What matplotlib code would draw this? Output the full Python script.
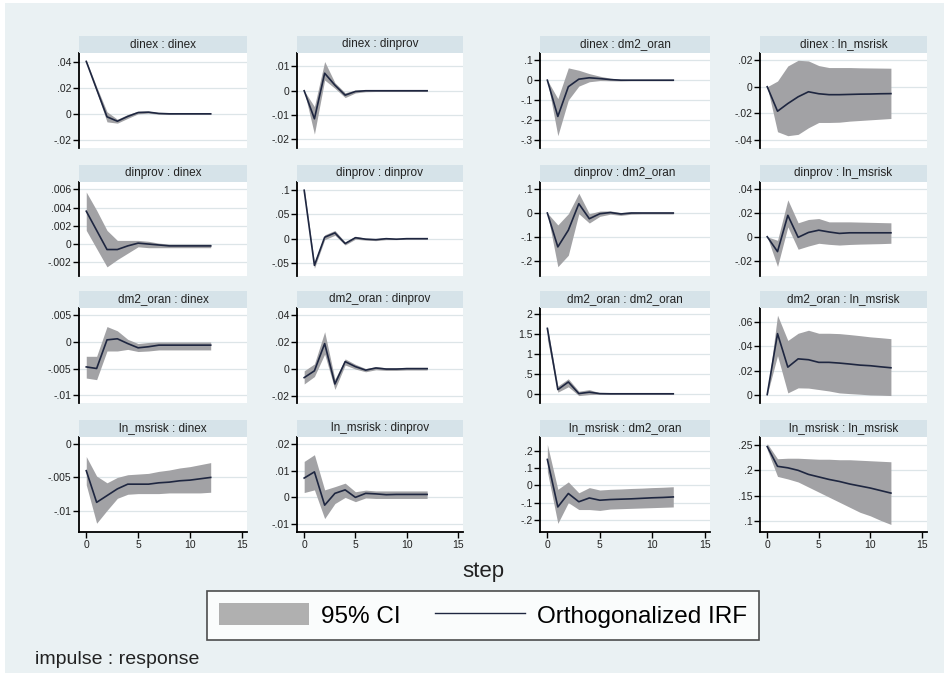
import matplotlib
matplotlib.use("Agg")
import matplotlib.pyplot as plt
from matplotlib.patches import Patch, Rectangle
from matplotlib.lines import Line2D

plt.rcParams['font.family'] = ['Liberation Sans Narrow', 'Liberation Sans', 'DejaVu Sans']

steps = list(range(13))
variables = ['dinex', 'dinprov', 'dm2_oran', 'ln_msrisk']

# impulse dinex
irf_dinex_dinex = [0.0405, 0.019, -0.0023, -0.0057, -0.002, 0.001, 0.0013, 0.0003, 0.0, 0.0, 0.0, 0.0, 0.0]
lo_dinex_dinex = [0.0395, 0.017, -0.0062, -0.0072, -0.0035, 0.0, 0.0005, -0.0003, -0.0004, -0.0003, -0.0003, -0.0003, -0.0003]
hi_dinex_dinex = [0.0415, 0.021, 0.0016, -0.0042, -0.0005, 0.002, 0.0021, 0.0009, 0.0004, 0.0003, 0.0003, 0.0003, 0.0003]

irf_dinex_dinprov = [0.0, -0.0115, 0.0072, 0.0023, -0.0018, -0.0003, 0.0, 0.0, 0.0, 0.0, 0.0, 0.0, 0.0]
lo_dinex_dinprov = [0.0, -0.0178, 0.0044, 0.001, -0.0028, -0.0009, -0.0004, -0.0003, -0.0003, -0.0003, -0.0003, -0.0003, -0.0003]
hi_dinex_dinprov = [0.0, -0.0065, 0.012, 0.0033, -0.0008, 0.0003, 0.0004, 0.0003, 0.0003, 0.0003, 0.0003, 0.0003, 0.0003]

irf_dinex_dm2 = [0.0, -0.183, -0.033, 0.005, 0.012, 0.008, 0.003, 0.0, 0.0, 0.0, 0.0, 0.0, 0.0]
lo_dinex_dm2 = [0.0, -0.28, -0.10, -0.03, -0.008, -0.002, -0.003, -0.004, -0.003, -0.003, -0.003, -0.003, -0.003]
hi_dinex_dm2 = [0.0, -0.093, 0.062, 0.05, 0.033, 0.02, 0.01, 0.004, 0.003, 0.003, 0.003, 0.003, 0.003]

irf_dinex_risk = [0.0, -0.0185, -0.0127, -0.0076, -0.0038, -0.0053, -0.006, -0.006, -0.0058, -0.0056, -0.0055, -0.0053, -0.0052]
lo_dinex_risk = [0.0, -0.034, -0.037, -0.036, -0.031, -0.027, -0.027, -0.0268, -0.026, -0.0255, -0.025, -0.0245, -0.024]
hi_dinex_risk = [0.0, 0.0043, 0.0157, 0.02, 0.0195, 0.016, 0.0145, 0.0145, 0.0145, 0.0143, 0.0142, 0.0141, 0.014]

# impulse dinprov
irf_dinprov_dinex = [0.0036, 0.0015, -0.0006, -0.0006, -0.0002, 0.0001, 0.0, -0.0001, -0.0002, -0.0002, -0.0002, -0.0002, -0.0002]
lo_dinprov_dinex = [0.0015, -0.0005, -0.0025, -0.0017, -0.001, -0.0003, -0.0004, -0.0004, -0.0004, -0.0004, -0.0004, -0.0004, -0.0004]
hi_dinprov_dinex = [0.0057, 0.0037, 0.0015, 0.0004, 0.0004, 0.0004, 0.0003, 0.0001, 0.0, 0.0, 0.0, 0.0, 0.0]

irf_dinprov_dinprov = [0.1, -0.055, 0.003, 0.012, -0.01, 0.002, -0.001, -0.002, 0.0, -0.001, 0.0, 0.0, 0.0]
lo_dinprov_dinprov = [0.096, -0.061, -0.002, 0.007, -0.013, -0.001, -0.003, -0.004, -0.002, -0.002, -0.001, -0.001, -0.001]
hi_dinprov_dinprov = [0.104, -0.049, 0.008, 0.017, -0.007, 0.005, 0.001, 0.0, 0.002, 0.0, 0.001, 0.001, 0.001]

irf_dinprov_dm2 = [0.0, -0.142, -0.072, 0.039, -0.024, -0.003, 0.002, -0.004, 0.0, 0.0, 0.0, 0.0, 0.0]
lo_dinprov_dm2 = [0.0, -0.225, -0.177, -0.003, -0.042, -0.014, -0.005, -0.01, -0.005, -0.004, -0.004, -0.004, -0.004]
hi_dinprov_dm2 = [0.0, -0.05, -0.003, 0.083, -0.003, 0.008, 0.009, 0.002, 0.005, 0.004, 0.004, 0.004, 0.004]

irf_dinprov_risk = [0.0, -0.0125, 0.018, -0.0005, 0.0036, 0.0055, 0.004, 0.0028, 0.0033, 0.0033, 0.0033, 0.0033, 0.0033]
lo_dinprov_risk = [0.0, -0.025, 0.0083, -0.0105, -0.0078, -0.0055, -0.0064, -0.007, -0.0065, -0.0062, -0.006, -0.0058, -0.0055]
hi_dinprov_risk = [0.0, -0.003, 0.031, 0.0117, 0.0145, 0.0153, 0.0125, 0.0125, 0.0125, 0.0123, 0.0121, 0.0119, 0.0117]

# impulse dm2_oran
irf_dm2_dinex = [-0.0047, -0.005, 0.0004, 0.0006, -0.0003, -0.0011, -0.0009, -0.0006, -0.0006, -0.0006, -0.0006, -0.0006, -0.0006]
lo_dm2_dinex = [-0.0068, -0.0071, -0.0017, -0.0017, -0.0014, -0.0018, -0.0017, -0.0015, -0.0015, -0.0015, -0.0015, -0.0015, -0.0015]
hi_dm2_dinex = [-0.0027, -0.0027, 0.0029, 0.0021, 0.0005, -0.0003, -0.0001, 0.0, 0.0, 0.0, 0.0, 0.0, 0.0]

irf_dm2_dinprov = [-0.0063, -0.0013, 0.0188, -0.011, 0.0055, 0.0018, -0.0008, 0.0008, 0.0, 0.0, 0.0003, 0.0003, 0.0003]
lo_dm2_dinprov = [-0.011, -0.0055, 0.011, -0.015, 0.003, 0.0, -0.002, -0.0005, -0.001, -0.001, -0.0007, -0.0007, -0.0007]
hi_dm2_dinprov = [-0.0013, 0.0038, 0.0275, -0.0075, 0.0075, 0.0035, 0.0004, 0.0018, 0.001, 0.001, 0.0013, 0.0013, 0.0013]

irf_dm2_dm2 = [1.63, 0.1, 0.29, 0.0, 0.035, 0.0, -0.005, -0.005, -0.005, -0.005, -0.005, -0.005, -0.005]
lo_dm2_dm2 = [1.36, 0.035, 0.17, -0.05, -0.025, -0.02, -0.02, -0.018, -0.018, -0.018, -0.018, -0.018, -0.018]
hi_dm2_dm2 = [1.68, 0.19, 0.37, 0.06, 0.1, 0.02, 0.01, 0.008, 0.008, 0.008, 0.008, 0.008, 0.008]

irf_dm2_risk = [0.0, 0.0507, 0.0228, 0.0297, 0.029, 0.0268, 0.0268, 0.0262, 0.0254, 0.0245, 0.024, 0.0231, 0.0223]
lo_dm2_risk = [0.0, 0.0324, 0.0014, 0.0056, 0.0054, 0.0042, 0.003, 0.0014, 0.0008, 0.0003, -0.0003, -0.0005, -0.0008]
hi_dm2_risk = [0.0, 0.066, 0.045, 0.051, 0.0535, 0.051, 0.051, 0.0507, 0.0499, 0.049, 0.048, 0.0473, 0.0465]

# impulse ln_msrisk
irf_risk_dinex = [-0.004, -0.0087, -0.0077, -0.0067, -0.006, -0.006, -0.006, -0.0058, -0.0057, -0.0055, -0.0054, -0.0052, -0.005]
lo_risk_dinex = [-0.0061, -0.0118, -0.0099, -0.0081, -0.0075, -0.0074, -0.0074, -0.0074, -0.0073, -0.0073, -0.0073, -0.0073, -0.0072]
hi_risk_dinex = [-0.0019, -0.0048, -0.0058, -0.005, -0.0046, -0.0045, -0.0044, -0.0041, -0.0039, -0.0036, -0.0034, -0.0031, -0.0028]

irf_risk_dinprov = [0.0072, 0.0095, -0.0029, 0.0015, 0.0028, 0.0, 0.0015, 0.0013, 0.001, 0.0011, 0.0011, 0.0011, 0.0011]
lo_risk_dinprov = [0.0018, 0.0028, -0.0079, -0.0023, 0.0, -0.0016, -0.0002, -0.0004, -0.0004, -0.0004, -0.0004, -0.0004, -0.0004]
hi_risk_dinprov = [0.0134, 0.0159, 0.0028, 0.004, 0.0053, 0.0021, 0.0027, 0.0024, 0.0024, 0.0024, 0.0024, 0.0024, 0.0024]

irf_risk_dm2 = [0.15, -0.125, -0.047, -0.095, -0.073, -0.086, -0.082, -0.08, -0.078, -0.075, -0.072, -0.07, -0.067]
lo_risk_dm2 = [0.08, -0.22, -0.1, -0.14, -0.14, -0.145, -0.137, -0.135, -0.133, -0.131, -0.129, -0.127, -0.125]
hi_risk_dm2 = [0.237, -0.023, 0.02, -0.043, -0.013, -0.027, -0.023, -0.021, -0.018, -0.016, -0.013, -0.011, -0.008]

irf_risk_risk = [0.247, 0.208, 0.205, 0.2, 0.192, 0.187, 0.182, 0.178, 0.173, 0.169, 0.165, 0.16, 0.155]
lo_risk_risk = [0.241, 0.188, 0.183, 0.177, 0.167, 0.157, 0.147, 0.137, 0.127, 0.117, 0.11, 0.101, 0.093]
hi_risk_risk = [0.253, 0.223, 0.224, 0.224, 0.223, 0.222, 0.222, 0.221, 0.221, 0.22, 0.219, 0.218, 0.217]

yticks_grid = [
    [[-0.02, 0, 0.02, 0.04], [-0.02, -0.01, 0, 0.01], [-0.3, -0.2, -0.1, 0, 0.1], [-0.04, -0.02, 0, 0.02]],
    [[-0.002, 0, 0.002, 0.004, 0.006], [-0.05, 0, 0.05, 0.1], [-0.2, -0.1, 0, 0.1], [-0.02, 0, 0.02, 0.04]],
    [[-0.01, -0.005, 0, 0.005], [-0.02, 0, 0.02, 0.04], [0, 0.5, 1, 1.5, 2], [0, 0.02, 0.04, 0.06]],
    [[-0.01, -0.005, 0], [-0.01, 0, 0.01, 0.02], [-0.2, -0.1, 0, 0.1, 0.2], [0.1, 0.15, 0.2, 0.25]],
]
ylims_grid = [
    [(-0.0264, 0.047), (-0.0235, 0.0155), (-0.342, 0.137), (-0.0463, 0.0255)],
    [(-0.0035, 0.0068), (-0.077, 0.117), (-0.264, 0.13), (-0.033, 0.046)],
    [(-0.0115, 0.0064), (-0.025, 0.045), (-0.235, 2.14), (-0.007, 0.072)],
    [(-0.0131, 0.001), (-0.0129, 0.0225), (-0.27, 0.28), (0.078, 0.266)],
]

panels = [
    [(irf_dinex_dinex, lo_dinex_dinex, hi_dinex_dinex), (irf_dinex_dinprov, lo_dinex_dinprov, hi_dinex_dinprov),
     (irf_dinex_dm2, lo_dinex_dm2, hi_dinex_dm2), (irf_dinex_risk, lo_dinex_risk, hi_dinex_risk)],
    [(irf_dinprov_dinex, lo_dinprov_dinex, hi_dinprov_dinex), (irf_dinprov_dinprov, lo_dinprov_dinprov, hi_dinprov_dinprov),
     (irf_dinprov_dm2, lo_dinprov_dm2, hi_dinprov_dm2), (irf_dinprov_risk, lo_dinprov_risk, hi_dinprov_risk)],
    [(irf_dm2_dinex, lo_dm2_dinex, hi_dm2_dinex), (irf_dm2_dinprov, lo_dm2_dinprov, hi_dm2_dinprov),
     (irf_dm2_dm2, lo_dm2_dm2, hi_dm2_dm2), (irf_dm2_risk, lo_dm2_risk, hi_dm2_risk)],
    [(irf_risk_dinex, lo_risk_dinex, hi_risk_dinex), (irf_risk_dinprov, lo_risk_dinprov, hi_risk_dinprov),
     (irf_risk_dm2, lo_risk_dm2, hi_risk_dm2), (irf_risk_risk, lo_risk_risk, hi_risk_risk)],
]


def stata_fmt(v):
    s = f"{v:g}"
    if s.startswith("0."):
        s = s[1:]
    elif s.startswith("-0."):
        s = "-" + s[2:]
    return s


W, H = 944, 673
bg = '#eaf1f3'
strip_col = '#d6e3e9'
band_col = '#a2a2a5'
line_col = '#1e2640'

fig = plt.figure(figsize=(W / 100, H / 100), dpi=100, facecolor='white')
# screenshot edge: thin white margin at top and left
fig.patches.append(Rectangle((5 / W, 0), 1, 1 - 3 / H, transform=fig.transFigure,
                             facecolor=bg, edgecolor='none', zorder=-10))

# pixel boxes of plot areas
cols_px = [(79, 247), (297, 463), (540, 710), (760, 927)]
rows_px = [(53, 148), (182, 276), (308, 403), (437, 532)]
strip_h = 17

for i in range(4):
    for j in range(4):
        x0, x1 = cols_px[j]
        y0, y1 = rows_px[i]
        ax = fig.add_axes([x0 / W, 1 - y1 / H, (x1 - x0) / W, (y1 - y0) / H])
        ax.set_facecolor('white')
        irf, lo, hi = panels[i][j]
        ax.fill_between(steps, lo, hi, color=band_col, lw=0, zorder=2)
        ax.plot(steps, irf, color=line_col, lw=1.2, zorder=3)
        ax.set_xlim(-0.7, 15.5)
        ax.set_ylim(*ylims_grid[i][j])
        yt = yticks_grid[i][j]
        ax.set_yticks(yt)
        ax.set_yticklabels([stata_fmt(v) for v in yt], fontsize=7.5, color='#222222')
        ax.grid(axis='y', color='#dde5e8', lw=0.9, zorder=0)
        for s in ['top', 'right']:
            ax.spines[s].set_visible(False)
        ax.spines['left'].set_linewidth(1.3)
        ax.tick_params(axis='y', length=4, width=1.0, pad=1.5)
        if i == 3:
            ax.set_xticks([0, 5, 10, 15])
            ax.set_xticklabels(['0', '5', '10', '15'], fontsize=7.5, color='#222222')
            ax.spines['bottom'].set_linewidth(1.3)
            ax.tick_params(axis='x', length=4, width=1.0, pad=2)
        else:
            ax.set_xticks([])
            ax.spines['bottom'].set_visible(False)

        # strip title
        sax = fig.add_axes([x0 / W, 1 - y0 / H, (x1 - x0) / W, strip_h / H])
        sax.set_facecolor(strip_col)
        sax.set_xticks([])
        sax.set_yticks([])
        for s in sax.spines.values():
            s.set_visible(False)
        sax.text(0.5, 0.5, f"{variables[i]} : {variables[j]}", ha='center', va='center',
                 fontsize=8.5, color='#222222', transform=sax.transAxes)

fig.text(483 / W, 1 - 572 / H, 'step', ha='center', va='center', fontsize=16, color='#222222')
fig.text(35 / W, 1 - 659 / H, 'impulse : response', ha='left', va='center', fontsize=14, color='#222222')

handles = [Patch(facecolor='#b0b0b0', edgecolor='none'), Line2D([0], [0], color=line_col, lw=1)]
leg = fig.legend(handles, ['95% CI', 'Orthogonalized IRF'], loc='center',
                 bbox_to_anchor=(483 / W, 1 - 615.5 / H), ncol=2, fontsize=17.5,
                 frameon=True, fancybox=False, edgecolor='#222222', facecolor='white',
                 handlelength=3.7, handleheight=1.0, handletextpad=0.5,
                 columnspacing=1.4, borderpad=0.5, borderaxespad=0)
leg.get_frame().set_linewidth(1.2)

fig.savefig('out.png', dpi=100, facecolor=fig.get_facecolor())
